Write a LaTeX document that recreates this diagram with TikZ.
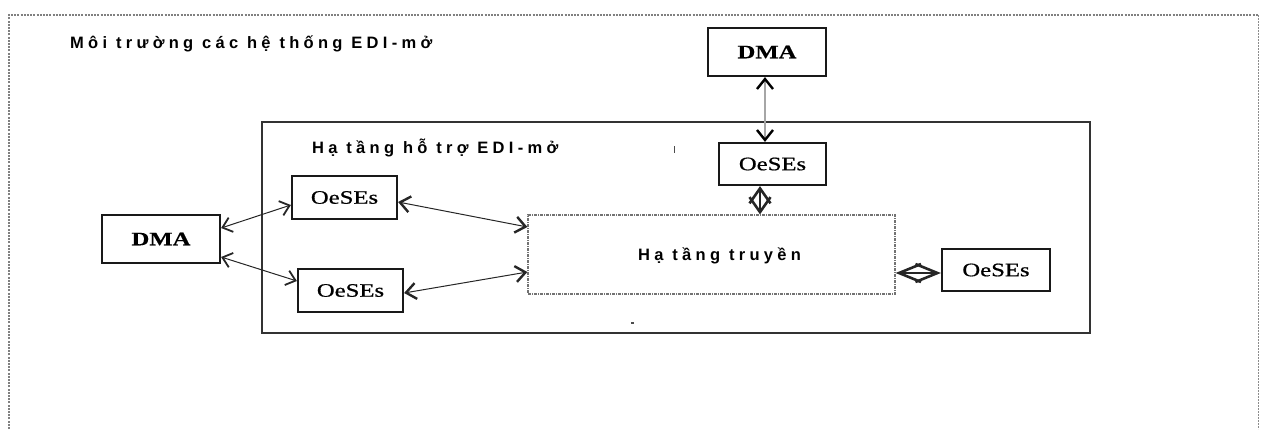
\documentclass[tikz,border=0pt]{standalone}
\usepackage{fontspec}
\usetikzlibrary{arrows.meta}
\newfontfamily\lblfont[LetterSpace=26]{Liberation Sans}
\newfontfamily\boxfont[FakeStretch=1.3,FakeBold=0.5]{Liberation Serif}
\newfontfamily\oesfont[FakeStretch=1.3,FakeBold=0.8]{Liberation Serif}
\begin{document}
\begin{tikzpicture}[x=1pt,y=-1pt,
  lbl/.style={font=\lblfont\bfseries\fontsize{16.5}{19}\selectfont, inner sep=0pt},
  sysbox/.style={draw=black!90, line width=2.2pt, rectangle, inner sep=0pt},
  dmabox/.style={sysbox, font=\boxfont\bfseries\fontsize{19}{22}\selectfont},
  oesbox/.style={sysbox, font=\oesfont\fontsize{19}{22}\selectfont},
  frameline/.style={draw=black!50, line width=1.8pt, dash pattern=on 2pt off 1.2pt},
  tipV/.tip={Straight Barb[length=9pt,width=15pt,line width=1.8pt]},
  tipB/.tip={Straight Barb[length=10pt,width=16pt,line width=2.4pt]},
  tipD/.tip={Straight Barb[length=15pt,width=21pt,line width=2.6pt]},
  tipR/.tip={Straight Barb[length=22pt,width=18pt,line width=2.6pt]},
  con/.style={draw=black!85, line width=1pt},
]
\useasboundingbox (0,0) rectangle (1263,429);

% outer frame (open at bottom)
\coordinate (fTL) at (9,15);
\coordinate (fTR) at (1258,15);
\coordinate (fBL) at (9,429);
\coordinate (fBR) at (1258,429);
\draw[frameline] (fBL) -- (fTL) -- (fTR);
\draw[draw=black!45, line width=1pt, dash pattern=on 2pt off 1pt] (fTR) -- (fBR);

\node[lbl, anchor=base west] (title) at (70,48) {Môi trường các hệ thống EDI-mở};

% inner infrastructure
\node[draw=black!80, line width=1.3pt, minimum width=828pt, minimum height=211pt, inner sep=0pt] (infra) at (676,227.5) {};
\node[lbl, anchor=base west] (infratitle) at (312,153) {Hạ tầng hỗ trợ EDI-mở};

% transmission box
\node[draw=black!55, line width=1.2pt, dash pattern=on 3pt off 1pt on 1pt off 1pt,
      minimum width=367pt, minimum height=79pt, inner sep=0pt] (trans) at (711.5,254.5) {};
\node[lbl, anchor=base west] (transtxt) at (638,260) {Hạ tầng truyền};

% boxes
\node[dmabox, minimum width=118pt, minimum height=48pt] (dmaT) at (767,52) {DMA};
\node[oesbox, minimum width=107pt, minimum height=42pt] (oesT) at (772.5,164) {OeSEs};
\node[dmabox, minimum width=118pt, minimum height=48pt] (dmaL) at (161,239) {DMA};
\node[oesbox, minimum width=105pt, minimum height=43pt] (oesUL) at (344.5,197.5) {OeSEs};
\node[oesbox, minimum width=105pt, minimum height=43pt] (oesLL) at (350.5,290.5) {OeSEs};
\node[oesbox, minimum width=108pt, minimum height=42pt] (oesR) at (996,270) {OeSEs};

% connectors
\draw[draw=black!35, line width=2pt, {tipB[color=black]}-{tipB[color=black]}]
  ([xshift=-2pt]dmaT.south) -- ([xshift=-7.5pt]oesT.north);
\draw[con, line width=1.5pt, tipD-tipD] ([xshift=-12.5pt]oesT.south) -- ([xshift=-12.5pt]oesT.south |- trans.north);
\draw[con, tipV-tipV] ([yshift=11pt]dmaL.east) -- ([yshift=-7.5pt]oesUL.west);
\draw[con, tipV-tipV] ([yshift=-18pt]dmaL.east) -- ([yshift=9.5pt]oesLL.west);
\draw[con, tipB-tipB] ([yshift=-4.5pt]oesUL.east) -- ([yshift=27.5pt]trans.west);
\draw[con, tipB-tipB] ([yshift=-2.5pt]oesLL.east) -- ([yshift=-17.5pt]trans.west);
\draw[con, line width=1.5pt, tipR-tipR] ([yshift=-18.5pt]trans.east) -- ([yshift=-3pt]oesR.west);

% small stray marks
\fill[black!70] (673.5,146) rectangle (675,153);
\fill[black!70] (631,322) rectangle (633.5,324);
\end{tikzpicture}
\end{document}
